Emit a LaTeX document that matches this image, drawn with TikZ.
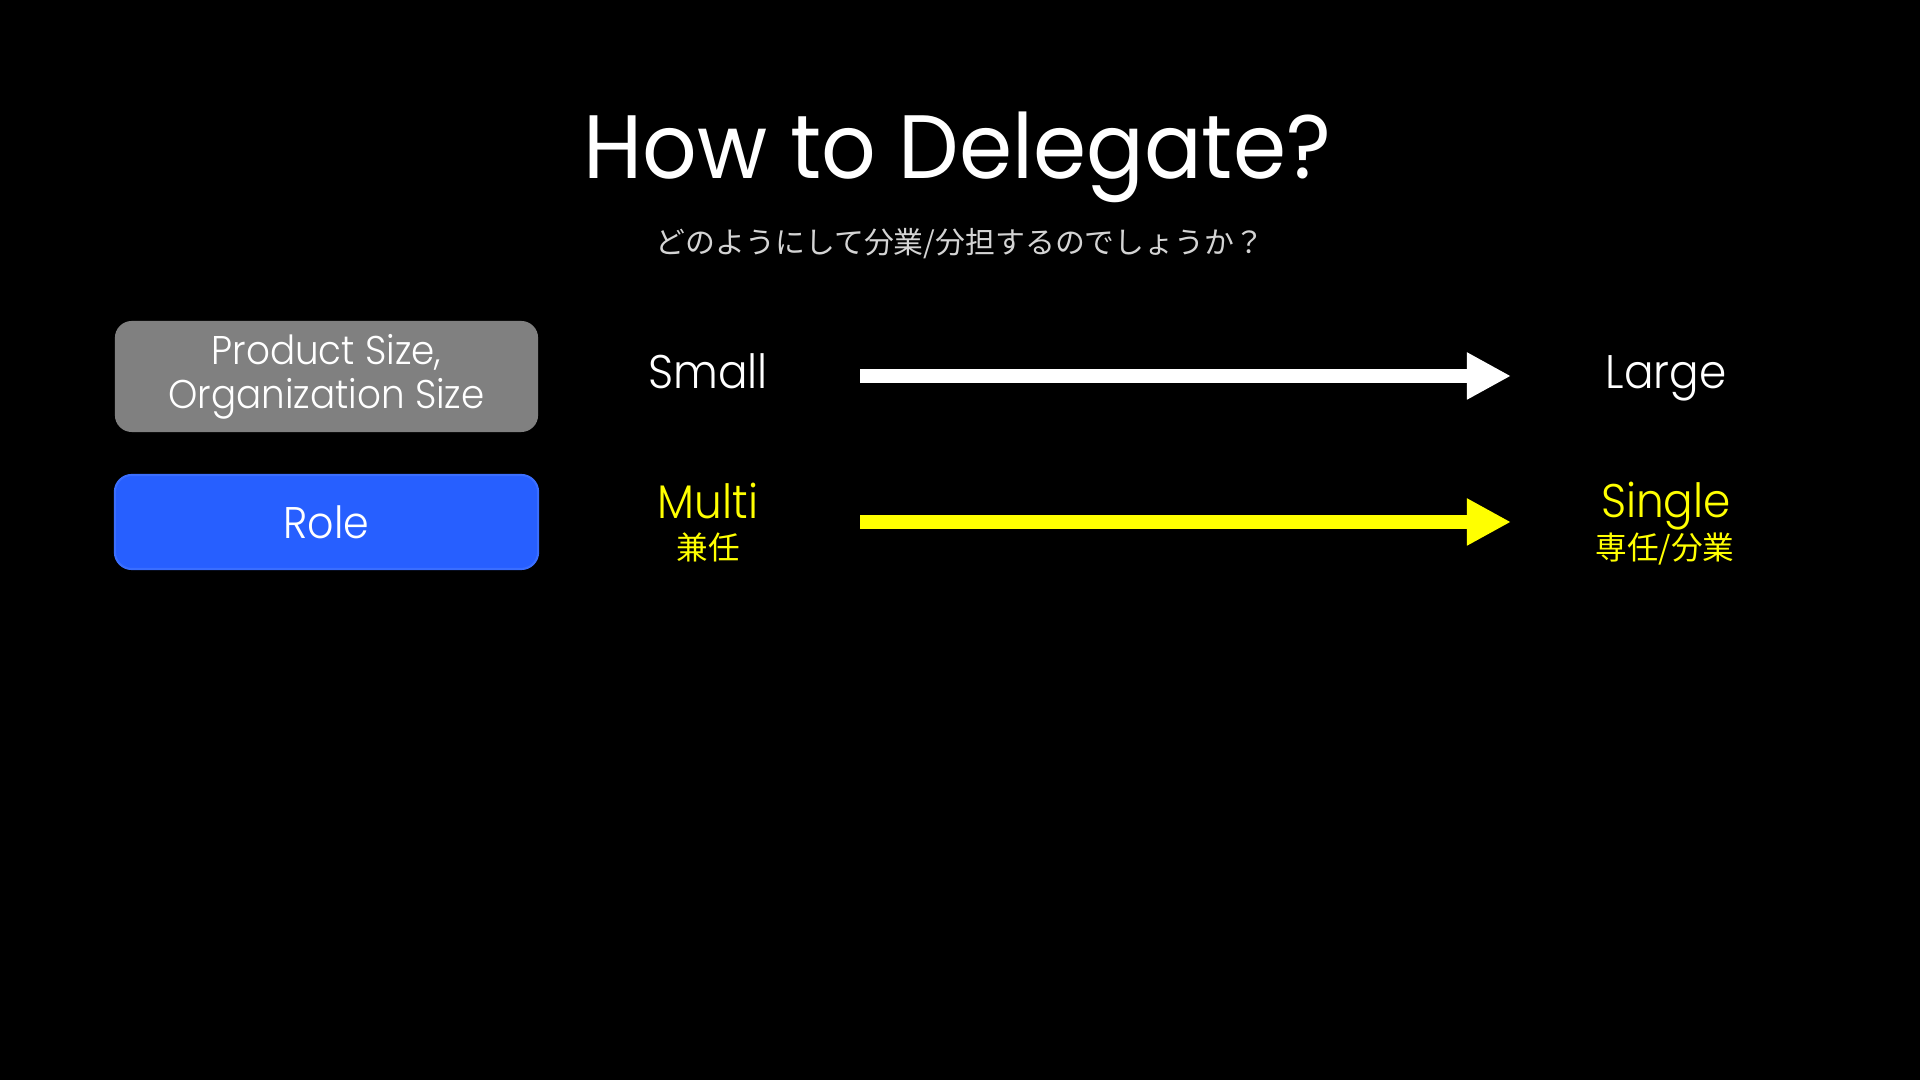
\documentclass[tikz,border=0pt]{standalone}
\usepackage{fontspec}
\setmainfont{Poppins Light}[FakeStretch=0.93]
\newfontfamily\titlefont{Poppins}[FakeStretch=0.95]
\newfontfamily\jp{Noto Sans CJK JP}
\usetikzlibrary{arrows.meta}
\definecolor{boxgrey}{HTML}{808080}
\definecolor{roleblue}{HTML}{275FFF}
\definecolor{roleedge}{HTML}{3A6EFF}
\definecolor{hiyellow}{HTML}{FFFF00}
\definecolor{subgrey}{HTML}{D4D4D4}
\tikzset{
  txt/.style={inner sep=0pt, anchor=base, text=white},
  lbl/.style={txt, font=\fontsize{13.4pt}{16pt}\selectfont},
  jplbl/.style={txt, font=\jp\fontsize{9pt}{10pt}\selectfont},
  catbox/.style={rounded corners=4.8pt, minimum width=423*0.2845pt, inner sep=0pt, text=white},
  bigarrow/.style={line width=14*0.2845pt, -{Triangle[length=44*0.2845pt, width=44*0.2845pt]}}
}
\begin{document}
\begin{tikzpicture}[x=0.01cm, y=-0.01cm]
\useasboundingbox (0,0) rectangle (1920,1080);
\fill[black] (0,0) rectangle (1920,1080);
% title
\node[txt, font=\titlefont\fontsize{25.6pt}{30pt}\selectfont] (title) at (957,179) {How to Delegate?};
\node[txt, text=subgrey, font=\jp\fontsize{8.5pt}{10pt}\selectfont] (subtitle) at (960,254) {どのようにして分業/分担するのでしょうか？};
% category boxes
\node[catbox, fill=boxgrey, minimum height=111*0.2845pt, align=center,
      font=\fontsize{11.4pt}{12.6pt}\selectfont] (size) at (326.5,376.5) {Product Size,\\Organization Size};
\node[catbox, fill=roleblue, draw=roleedge, line width=0.6pt, minimum height=94*0.2845pt,
      font=\fontsize{12.6pt}{15pt}\selectfont] (role) at (326.5,522) {Role};
% row 1
\node[lbl] (small) at (708,389) {Small};
\node[lbl] (large) at (1666,389) {Large};
\coordinate (a1s) at (860,376);
\coordinate (a1e) at (1511,376);
\draw[bigarrow, white] (a1s) -- (a1e);
% row 2
\node[lbl, text=hiyellow] (multi) at (708,519) {Multi};
\node[jplbl, text=hiyellow] (multijp) at (708,560) {兼任};
\node[lbl, text=hiyellow] (single) at (1666,518) {Single};
\node[jplbl, text=hiyellow] (singlejp) at (1665,560) {専任/分業};
\coordinate (a2s) at (860,522);
\coordinate (a2e) at (1511,522);
\draw[bigarrow, hiyellow] (a2s) -- (a2e);
\end{tikzpicture}
\end{document}
